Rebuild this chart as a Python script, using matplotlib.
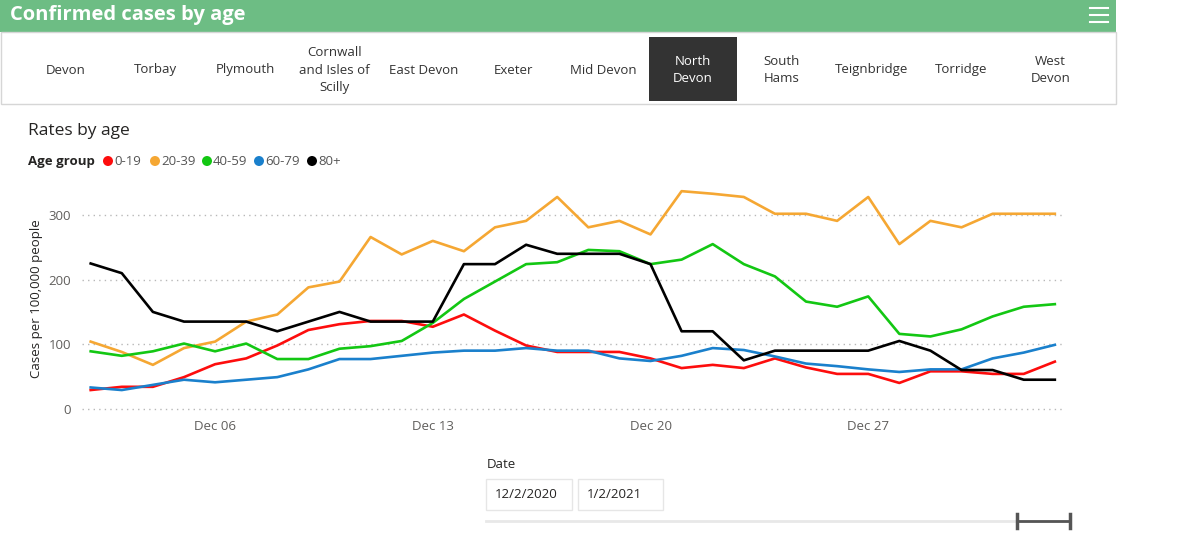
import matplotlib.pyplot as plt
import matplotlib.dates as mdates
import numpy as np
import pandas as pd
from matplotlib.patches import Rectangle, Ellipse
from matplotlib.lines import Line2D

plt.rcParams['font.family'] = ['Open Sans', 'DejaVu Sans']

# data
dates = pd.date_range('2020-12-02', '2021-01-02', freq='D')
age_groups = ['0-19', '20-39', '40-59', '60-79', '80+']
colors = ['#fd0d0d', '#f5a733', '#13c713', '#1a80cc', '#000000']

rate_0_19 = [29, 34, 34, 49, 69, 78, 98, 122, 131, 136, 136, 127, 146, 121, 98, 88,
             88, 88, 78, 63, 68, 63, 78, 64, 54, 54, 40, 58, 58, 54, 54, 73]
rate_20_39 = [104, 88, 68, 94, 104, 135, 146, 188, 197, 266, 239, 260, 244, 281, 291, 328,
              281, 291, 270, 337, 333, 328, 302, 302, 291, 328, 255, 291, 281, 302, 302, 302]
rate_40_59 = [89, 82, 89, 101, 89, 101, 77, 77, 93, 97, 105, 133, 170, 197, 224, 227,
              246, 244, 224, 231, 255, 224, 205, 166, 158, 174, 116, 112, 123, 143, 158, 162]
rate_60_79 = [33, 29, 37, 45, 41, 45, 49, 61, 77, 77, 82, 87, 90, 90, 94, 90,
              90, 78, 74, 82, 94, 91, 81, 70, 66, 61, 57, 61, 61, 78, 87, 99]
rate_80 = [225, 210, 150, 135, 135, 135, 120, 135, 150, 135, 135, 135, 224, 224, 254, 240,
           240, 240, 224, 120, 120, 75, 90, 90, 90, 90, 105, 90, 60, 60, 45, 45]
series = [rate_0_19, rate_20_39, rate_40_59, rate_60_79, rate_80]

tabs = ['Devon', 'Torbay', 'Plymouth', 'Cornwall\nand Isles of\nScilly', 'East Devon',
        'Exeter', 'Mid Devon', 'North\nDevon', 'South\nHams', 'Teignbridge', 'Torridge',
        'West\nDevon']
selected_tab = 'North\nDevon'
yticks = [0, 100, 200, 300]
date_from, date_to = '12/2/2020', '1/2/2021'

W, H = 1200, 554
fig = plt.figure(figsize=(W / 100, H / 100), dpi=100)


def fx(px):
    return px / W


def fy(py):
    return 1 - py / H


# header bar
fig.patches.append(Rectangle((0, fy(32)), fx(1116), 32 / H, transform=fig.transFigure,
                             facecolor='#6dbd84', edgecolor='none'))
fig.text(fx(10), fy(15), 'Confirmed cases by age', color='white', fontsize=14.5,
         fontweight='bold', va='center', ha='left')
for yy in (8, 15, 22):
    fig.lines.append(Line2D([fx(1090), fx(1108)], [fy(yy), fy(yy)], transform=fig.transFigure,
                            color='white', lw=1.5))

# tab strip
fig.patches.append(Rectangle((fx(1), fy(104)), fx(1115), 72 / H, transform=fig.transFigure,
                             facecolor='white', edgecolor='#d6d6d6', lw=1))
for i, name in enumerate(tabs):
    cx = 66 + i * 89.5
    col = '#333333'
    if name == selected_tab:
        fig.patches.append(Rectangle((fx(649), fy(101)), fx(88), 64 / H,
                                     transform=fig.transFigure, facecolor='#333333',
                                     edgecolor='none'))
        col = 'white'
    fig.text(fx(cx), fy(70), name, ha='center', va='center', fontsize=9.5, color=col,
             linespacing=1.45)

# title and legend
fig.text(fx(28), fy(131), 'Rates by age', fontsize=12.5, color='#252423', va='center')
fig.text(fx(28), fy(162), 'Age group', fontsize=9.5, fontweight='bold', color='#252423',
         va='center')
leg_x = [108, 155, 207, 259, 312]
for x0, lab, c in zip(leg_x, age_groups, colors):
    fig.patches.append(Ellipse((fx(x0), fy(161)), 10 / W, 10 / H, transform=fig.transFigure,
                               facecolor=c, edgecolor='none'))
    fig.text(fx(x0 + 6), fy(162), lab, fontsize=9.5, color='#555555', va='center')

# main axes
ax = fig.add_axes([fx(82), fy(412), fx(1063 - 82), (412 - 186) / H])
for vals, c in zip(series, colors):
    ax.plot(dates, vals, color=c, lw=1.9, solid_joinstyle='round')

ax.set_ylim(-5, 345)
ax.set_xlim(dates[0] - pd.Timedelta(hours=6.7), dates[-1] + pd.Timedelta(hours=6.3))
ax.set_yticks(yticks)
ax.yaxis.grid(True, color='#b8b8b8', linestyle=(0, (1, 3)), lw=1)
ax.xaxis.set_major_locator(mdates.DayLocator(bymonthday=[6, 13, 20, 27]))
ax.xaxis.set_major_formatter(mdates.DateFormatter('%b %d'))
ax.tick_params(length=0, labelsize=9.5, labelcolor='#605e5c')
ax.tick_params(axis='x', pad=6)
ax.tick_params(axis='y', pad=8)
for s in ax.spines.values():
    s.set_visible(False)
ax.set_ylabel('Cases per 100,000 people', fontsize=9.5, color='#252423', labelpad=4)

# date slicer
fig.text(fx(487), fy(465), 'Date', fontsize=9.5, color='#252423', va='center')
for x0, x1, txt in ((486, 572, date_from), (578, 663, date_to)):
    fig.patches.append(Rectangle((fx(x0), fy(510)), fx(x1 - x0), 31 / H,
                                 transform=fig.transFigure, facecolor='white',
                                 edgecolor='#e6e6e6', lw=1))
    fig.text(fx(x0 + 9), fy(494.5), txt, fontsize=9.5, color='#252423', va='center')
fig.lines.append(Line2D([fx(486), fx(1070)], [fy(521), fy(521)], transform=fig.transFigure,
                        color='#e8e8e8', lw=2))
fig.lines.append(Line2D([fx(1017), fx(1070)], [fy(521), fy(521)], transform=fig.transFigure,
                        color='#555555', lw=2))
for xx in (1017, 1070):
    fig.lines.append(Line2D([fx(xx), fx(xx)], [fy(514), fy(528)], transform=fig.transFigure,
                            color='#555555', lw=2.5))

fig.savefig('out.png', dpi=100)
